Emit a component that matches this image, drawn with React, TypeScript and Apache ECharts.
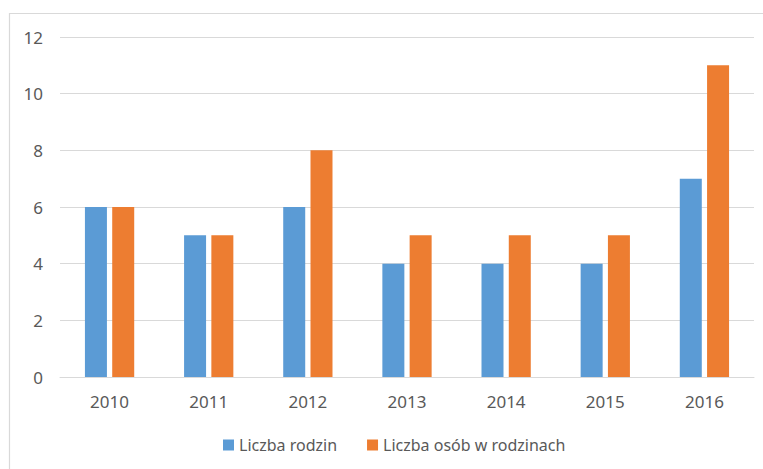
import React, { useEffect, useRef } from "react";
import * as echarts from "echarts";

const categories = ["2010", "2011", "2012", "2013", "2014", "2015", "2016"];
const liczbaRodzin = [6, 5, 6, 4, 4, 4, 7];
const liczbaOsob = [6, 5, 8, 5, 5, 5, 11];
const seriesNames = ["Liczba rodzin", "Liczba osób w rodzinach"];

const FONT = "'Noto Sans', sans-serif";

export default function App() {
  const ref = useRef<HTMLDivElement>(null);
  useEffect(() => {
    if (!ref.current) return;
    const chart = echarts.init(ref.current, null, { renderer: "svg" });
    chart.setOption({
      animation: false,
      backgroundColor: "#ffffff",
      textStyle: { fontFamily: FONT },
      graphic: [
        {
          type: "rect",
          shape: { x: 9.5, y: 13.5, width: 800, height: 500 },
          style: { fill: "none", stroke: "#D9D9D9", lineWidth: 1.2 },
          silent: true,
        },
      ],
      grid: { left: 60, right: 9, top: 37, bottom: 92 },
      legend: {
        left: 223,
        top: 437,
        padding: 0,
        itemWidth: 11,
        itemHeight: 11,
        itemGap: 30,
        icon: "rect",
        textStyle: { color: "#595959", fontSize: 16, fontFamily: FONT },
        data: seriesNames,
      },
      xAxis: {
        type: "category",
        data: categories,
        axisLine: { show: true, lineStyle: { color: "#D9D9D9", width: 1 } },
        axisTick: { show: false },
        axisLabel: { color: "#595959", fontSize: 17, fontFamily: FONT, margin: 16 },
      },
      yAxis: {
        type: "value",
        min: 0,
        max: 12,
        interval: 2,
        axisLine: { show: false },
        axisTick: { show: false },
        axisLabel: { color: "#595959", fontSize: 17, fontFamily: FONT, margin: 17 },
        splitLine: { lineStyle: { color: "#D9D9D9", width: 1 } },
      },
      series: [
        {
          name: seriesNames[0],
          type: "bar",
          data: liczbaRodzin,
          barWidth: 22,
          barGap: "24%",
          itemStyle: { color: "#5B9BD5" },
        },
        {
          name: seriesNames[1],
          type: "bar",
          data: liczbaOsob,
          barWidth: 22,
          barGap: "24%",
          itemStyle: { color: "#ED7D31" },
        },
      ],
    });
    return () => chart.dispose();
  }, []);
  return (
    <div
      ref={ref}
      style={{ position: "absolute", left: 0, top: 0, width: 763, height: 469 }}
    />
  );
}
